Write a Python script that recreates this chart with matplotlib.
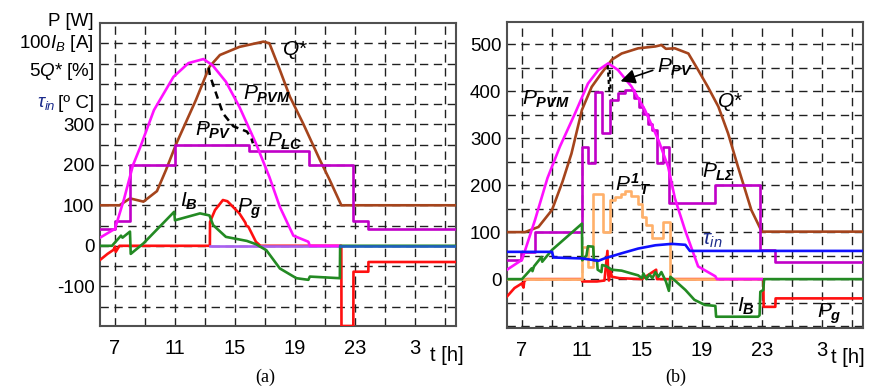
import matplotlib
matplotlib.use("Agg")
import matplotlib.pyplot as plt
import numpy as np

plt.rcParams['font.family'] = ['Liberation Sans', 'DejaVu Sans']
plt.rcParams['mathtext.fontset'] = 'custom'
plt.rcParams['mathtext.rm'] = 'Liberation Sans'
plt.rcParams['mathtext.it'] = 'Liberation Sans:italic'
plt.rcParams['mathtext.bf'] = 'Liberation Sans:bold:italic'

# ---------------- Panel (a) data ----------------
a_pvm_t = [6, 7, 7.6, 8.2, 8.7, 9.6, 10.9, 11.9, 12.9, 13.5, 14.4, 15.3, 16.4, 17.3, 18.0, 18.9, 19.9, 20.0, 22.0]
a_pvm_v = [20, 42, 115, 199, 245, 335, 417, 451, 461, 446, 405, 343, 253, 170, 96, 25, 10, 0, 0]

a_ppv_t = [13.25, 13.33, 13.67, 14.2, 14.9, 15.8, 16.1, 16.2]
a_ppv_v = [440, 421, 384, 327, 295, 282, 265, 253]

a_plc_t = [6, 7, 8.0, 11.0, 15.95, 19.95, 22.9, 23.9, 29.75]
a_plc_v = [41, 62, 200, 250, 233, 200, 62, 41, 41]

a_q_t = [6, 7.3, 8.0, 8.9, 9.8, 10.4, 11.1, 12.4, 13.3, 14.0, 15.3, 16.9, 17.3, 18.0, 18.67, 19.55, 20.67, 21.33, 22.1, 29.75]
a_q_v = [100, 100, 117, 109, 135, 187, 253, 360, 442, 471, 491, 504, 500, 434, 368, 302, 212, 162, 100, 100]

a_ib_t = [6, 6.8, 7.4, 7.5, 8.0, 8.05, 8.9, 10.95, 11.0, 12.67, 13.3, 13.55, 14.4, 15.8, 16.4, 17.1, 18.0, 19.1, 19.9, 20.0, 22.0, 22.02, 29.75]
a_ib_v = [0, 0, 25, 20, 35, -20, 6, 84, 63, 80, 75, 51, 22, 12, 4, -11, -56, -80, -84, -76, -80, 0, 0]

a_pg_t = [6, 6.5, 6.9, 7.0, 7.05, 7.3, 13.33, 13.34, 13.67, 14.2, 14.5, 15.3, 15.7, 15.75, 15.9, 16.4, 16.7, 22.1, 22.11, 22.9, 22.91, 23.9, 23.91, 29.75]
a_pg_v = [-35, -20, -10, -2, -15, 0, 0, 59, 88, 113, 110, 80, 57, 50, 47, 10, 0, 0, -198, -198, -64, -64, -40, -40]

# ---------------- Panel (b) data ----------------
b_pvm_t = [6, 7, 7.87, 8.7, 9.53, 10.53, 11.4, 12.1, 12.75, 13.4, 14.3, 15.2, 16.1, 16.75, 17.2, 17.87, 18.75, 19.9, 20.0, 23.0]
b_pvm_v = [20, 41, 126, 215, 282, 352, 416, 445, 459, 445, 410, 360, 296, 239, 172, 105, 27, 6, 0, 0]

b_ppv1_t = [12.72, 12.78, 12.85]
b_ppv1_v = [455, 420, 390]
b_ppv2_t = [12.85, 12.92]
b_ppv2_v = [445, 400]

b_pl_t = [6, 6.95, 7.9, 11.0, 11.4, 11.87, 12.31, 12.87, 13.42, 13.87, 14.5, 14.8, 15.1, 15.42, 15.7, 15.98, 16.42, 16.8, 19.9, 22.9, 23.9, 29.75]
b_pl_v = [41, 58, 100, 282, 246, 398, 310, 381, 395, 403, 385, 366, 352, 330, 317, 246, 282, 161, 200, 62, 37, 37]

b_q_t = [6, 7.2, 8.1, 9.0, 9.7, 10.3, 11.0, 11.65, 12.3, 13.0, 13.65, 14.75, 15.9, 16.3, 16.6, 17.2, 18.1, 18.75, 19.4, 20.1, 20.75, 21.4, 22.3, 23.0, 29.75]
b_q_v = [100, 100, 111, 147, 207, 267, 360, 409, 438, 467, 480, 491, 495, 498, 490, 491, 480, 445, 409, 367, 310, 240, 147, 101, 101]

b_tau_t = [6, 9.0, 9.1, 11.0, 12.1, 12.5, 13.65, 14.75, 15.9, 17.0, 17.9, 18.2, 29.75]
b_tau_v = [58, 58, 46, 44, 39, 44, 55, 65, 72, 75, 73, 60, 60]

b_pt_t = [6, 11.0, 11.4, 11.75, 12.4, 12.85, 13.2, 13.6, 13.9, 14.3, 14.75, 15.0, 15.3, 15.65, 16.4, 16.85, 20.0]
b_pt_v = [0, 69, 26, 182, 101, 169, 175, 182, 187, 176, 160, 133, 115, 87, 122, 0, 0]

b_ib_t = [6, 7.0, 7.65, 7.7, 7.8, 8.3, 8.35, 9.0, 11.0, 11.02, 11.3, 11.4, 11.75, 11.8, 12.0, 12.05, 12.3, 12.35, 12.6, 13.0, 13.65, 14.3, 14.75, 15.0, 15.1, 15.3, 15.5, 15.7, 15.9, 16.1, 16.3, 16.6, 16.8, 16.9, 17.2, 17.9, 18.5, 19.2, 19.9, 19.95, 22.75, 22.85, 22.9, 23.1, 23.15, 29.75]
b_ib_v = [0, 0, 23, 17, 27, 47, 37, 62, 118, 40, 50, 70, 69, 40, 41, 20, 15, 30, 28, 20, 18, 12, 8, 2, 12, 0, 10, 2, 15, 5, 15, -5, -25, 5, -3, -23, -44, -55, -57, -80, -80, -77, -27, -23, 0, 0]

b_pg_t = [6, 6.5, 7.0, 7.1, 7.15, 7.3, 11.0, 11.02, 12.0, 12.5, 12.7, 12.75, 12.8, 12.9, 13.0, 13.5, 15.0, 15.95, 16.0, 23.1, 23.12, 23.9, 23.92, 29.75]
b_pg_v = [-37, -19, -9, -18, -5, 0, 0, -5, -5, -3, 60, 10, -3, 20, 5, 2, 0, 20, 0, 0, -59, -59, -41, -41]

xticks = [7, 11, 15, 19, 23, 27]
xticklabels = ['7', '11', '15', '19', '23', '3']
a_yticks = [-100, 0, 100, 200, 300]
b_yticks = [0, 100, 200, 300, 400, 500]

C_PVM = '#ff10ff'
C_PL = '#c000c8'
C_Q = '#a5441c'
C_IB = '#238a23'
C_PG = '#ff1010'
C_TAU = '#1010ff'
C_PT = '#ffb06a'
LW = 1.9

fig = plt.figure(figsize=(8.75, 3.89), dpi=100)
axa = fig.add_axes([100/875, (389-326)/389, 356/875, 303/389])
axb = fig.add_axes([507/875, (389-328)/389, 356/875, 306/389])


def style(ax, ylim, yticks):
    ax.set_xlim(6, 29.75)
    ax.set_ylim(*ylim)
    ax.set_xticks(xticks)
    ax.set_xticklabels(xticklabels, fontsize=14.5)
    ax.set_yticks(yticks)
    ax.set_yticklabels([str(v) for v in yticks], fontsize=13.5)
    ax.tick_params(axis='both', which='both', length=0)
    ax.tick_params(axis='x', pad=9)
    ax.tick_params(axis='y', pad=4)
    gkw = dict(color='#202020', linestyle=(0, (6, 4)), linewidth=1.0, zorder=1)
    for xv in np.arange(7, 30, 2):
        ax.axvline(xv, **gkw)
    for yv in np.arange(-150, 551, 50):
        if ylim[0] < yv < ylim[1]:
            ax.axhline(yv, **gkw)
    for s in ax.spines.values():
        s.set_color('#505050')
        s.set_linewidth(1.5)


style(axa, (-198, 550), a_yticks)
style(axb, (-104, 547), b_yticks)

# ---- panel (a) ----
axa.plot(a_q_t, a_q_v, color=C_Q, lw=LW, zorder=3)
axa.step(a_plc_t, a_plc_v, where='post', color=C_PL, lw=LW, zorder=3)
axa.plot(a_pg_t, a_pg_v, color=C_PG, lw=LW, zorder=3)
axa.plot([13.33, 22.0], [0, 0], color='#a860f0', lw=LW, zorder=3)
axa.plot(a_pvm_t, a_pvm_v, color=C_PVM, lw=LW, zorder=4)
axa.plot(a_ib_t, a_ib_v, color=C_IB, lw=LW, zorder=4)
axa.plot([22.0, 29.75], [0, 0], color='#1f5fbf', lw=LW, zorder=5)
axa.plot(a_ppv_t, a_ppv_v, color='black', lw=1.8, linestyle=(0, (3, 2)), zorder=5)

# ---- panel (b) ----
axb.plot(b_q_t, b_q_v, color=C_Q, lw=LW, zorder=3)
axb.plot(b_pg_t, b_pg_v, color=C_PG, lw=LW, zorder=3)
axb.step(b_pt_t, b_pt_v, where='post', color=C_PT, lw=LW, zorder=3)
axb.step(b_pl_t, b_pl_v, where='post', color=C_PL, lw=LW, zorder=4)
axb.plot(b_pvm_t, b_pvm_v, color=C_PVM, lw=LW, zorder=4)
axb.plot(b_ib_t, b_ib_v, color=C_IB, lw=LW, zorder=5)
axb.plot(b_tau_t, b_tau_v, color=C_TAU, lw=LW, zorder=5)
axb.plot(b_ppv1_t, b_ppv1_v, color='black', lw=1.5, linestyle=(0, (2, 1.5)), zorder=6)
axb.plot(b_ppv2_t, b_ppv2_v, color='black', lw=1.5, linestyle=(0, (2, 1.5)), zorder=6)
axb.annotate('', xy=(13.4, 419), xytext=(15.9, 446),
             arrowprops=dict(arrowstyle='-|>', color='black', lw=1.2, mutation_scale=22),
             zorder=7)

# ---- labels ----
FS = 15
kw = dict(fontsize=FS, ha='left', va='baseline', zorder=8)
axa.text(18.13, 471, r'$Q$*', **kw)
axa.text(15.53, 360, r'$P_{\mathbf{PVM}}$', **kw)
axa.text(12.33, 273, r'$P_{\mathbf{PV}}$', **kw)
axa.text(17.13, 244, r'$P_{\mathbf{LC}}$', **kw)
axa.text(11.33, 96, r'$I_{\mathbf{B}}$', **kw)
axa.text(15.13, 81, r'$P_{\mathbf{g}}$', **kw)

axb.text(7.0, 371, r'$P_{\mathbf{PVM}}$', **kw)
axb.text(16.0, 439, r'$P_{\mathbf{PV}}$', **kw)
axb.text(20.0, 366, r'$Q$*', **kw)
axb.text(19.0, 215, r'$P_{\mathbf{L\Sigma}}$', **kw)
axb.text(13.2, 186, r'$P^{\mathbf{1}}{}_{\mathbf{T}}$', **kw)
axb.text(19.0, 73, r'$\tau_{in}$', fontsize=FS, ha='left', va='baseline', color='#1a2a8a', zorder=8)
axb.text(21.33, -70, r'$I_{\mathbf{B}}$', **kw)
axb.text(26.67, -82, r'$P_{\mathbf{g}}$', **kw)

# time axis unit
for ax, tx in ((axa, 28.0), (axb, 27.6)):
    ax.text(tx, -0.065, 't [h]', transform=ax.get_xaxis_transform(), fontsize=14.5,
            ha='left', va='top', clip_on=False)

# y-axis label of panel (a)
xr = 94/875
fig.text(xr, 1 - 22/389, 'P [W]', fontsize=13.5, ha='right', va='center')
fig.text(xr, 1 - 44/389, r'100$I_B$ [A]', fontsize=13.5, ha='right', va='center')
fig.text(xr, 1 - 71/389, r'5$Q$* [%]', fontsize=13.5, ha='right', va='center')
tc = fig.text(xr, 1 - 103/389, '[º C]', fontsize=13.5, ha='right', va='center')
fig.canvas.draw()
bb = tc.get_window_extent()
fig.text(bb.x0 / fig.bbox.width - 2/875, 1 - 103/389, r'$\tau_{in}$', fontsize=13.5,
         ha='right', va='center', color='#1a2a8a')

# panel captions
fig.text(265/875, 1 - 377/389, '(a)', fontsize=13, family='Liberation Serif', ha='center', va='center')
fig.text(676/875, 1 - 377/389, '(b)', fontsize=13, family='Liberation Serif', ha='center', va='center')

fig.savefig('out.png', dpi=100)
